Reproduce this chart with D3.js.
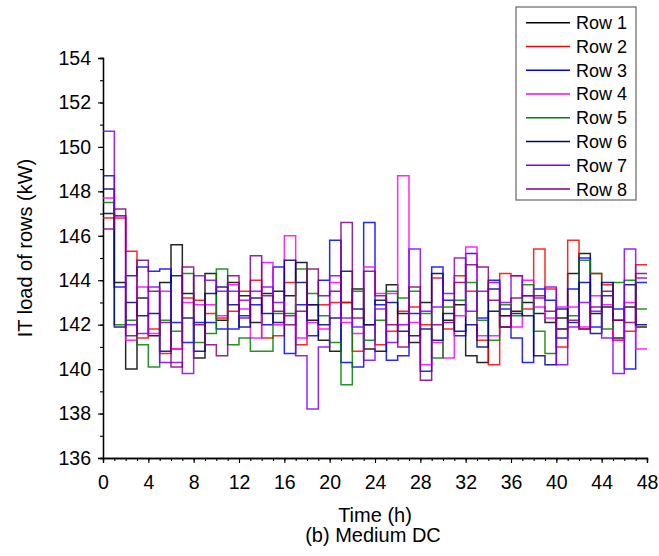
<!DOCTYPE html>
<html>
<head>
<meta charset="utf-8">
<script src="https://cdn.jsdelivr.net/npm/d3@7"></script>
<style>
  body { margin: 0; background: #fff; }
  text { font-family: "Liberation Sans", Arial, sans-serif; fill: #000; }
</style>
</head>
<body>
<div id="chart"></div>
<script>
// hourly IT load per row (kW), hour 0..47
var hours = d3.range(0, 48);
var row1 = [147.0,143.9,140.0,143.2,141.5,143.9,145.6,143.4,140.5,144.3,142.2,143.9,143.3,142.1,143.4,143.5,143.3,144.8,142.2,141.3,140.8,143.0,143.6,140.9,140.8,143.8,142.5,141.2,143.0,144.3,142.2,142.9,140.6,140.3,142.6,141.9,142.6,143.0,142.5,142.1,142.3,144.3,145.2,142.5,142.8,141.4,142.8,141.9];
var row2 = [146.8,146.8,145.3,141.4,141.8,140.7,140.9,143.2,143.1,142.5,142.3,142.6,143.5,144.0,141.4,141.5,143.9,141.1,142.9,142.9,143.0,143.0,140.8,142.0,141.1,141.7,142.6,142.8,142.0,144.1,141.8,144.2,143.5,141.3,140.2,144.3,144.2,142.7,145.4,143.6,141.0,145.8,141.8,144.3,143.8,141.3,141.7,144.7];
var row3 = [148.7,143.7,144.2,144.6,144.4,144.5,142.1,141.2,142.1,142.1,141.8,141.8,142.4,142.9,142.0,144.6,140.7,142.9,141.5,144.0,145.8,140.3,140.1,146.6,142.9,140.4,140.6,142.5,139.9,144.6,143.1,141.5,145.2,142.3,144.0,142.7,141.4,140.3,143.6,143.1,141.4,143.6,145.0,141.9,143.3,142.7,140.0,143.9];
var row4 = [147.7,146.9,141.3,143.7,141.6,143.5,140.9,143.0,142.9,142.9,142.4,143.8,142.7,141.4,144.8,142.0,146.0,141.4,142.1,141.8,143.9,142.1,141.6,144.6,143.4,143.4,148.7,142.1,140.2,141.2,140.5,142.4,145.5,141.5,141.5,142.4,141.9,144.0,142.8,142.3,142.8,142.8,141.9,143.3,142.9,141.3,143.0,140.9];
var row5 = [147.5,142.0,142.2,141.1,140.1,142.2,141.7,144.3,141.2,141.6,144.5,141.1,141.4,140.8,140.8,142.5,142.5,144.5,143.4,142.4,141.2,139.3,143.5,141.3,142.2,143.5,143.2,143.5,142.5,140.5,142.8,143.1,143.9,142.2,141.3,142.9,142.4,143.8,141.7,140.7,141.8,142.4,144.9,144.3,141.8,143.9,144.0,142.7];
var row6 = [148.1,141.9,143.0,142.4,142.5,140.8,144.2,142.3,140.8,143.4,143.7,142.9,141.9,143.2,142.5,142.1,144.9,143.9,142.9,142.0,142.3,144.4,142.7,142.0,143.1,143.0,141.7,141.5,141.8,141.3,142.5,141.7,142.0,141.0,143.6,142.4,142.5,142.4,140.6,140.2,142.7,142.1,143.9,141.6,143.9,142.2,143.8,142.0];
var row7 = [150.7,146.9,142.0,141.6,143.7,140.3,140.3,139.8,144.2,144.0,143.5,143.5,143.1,143.5,143.7,143.0,142.4,140.6,138.2,141.0,144.2,142.3,141.9,140.4,142.7,141.2,142.0,145.4,142.6,142.8,143.4,145.0,142.6,143.5,143.9,143.0,144.2,143.3,143.2,143.7,140.2,141.9,143.0,142.6,141.4,139.8,145.4,144.1];
var row8 = [146.3,147.2,141.5,144.9,143.5,142.1,140.1,144.6,142.0,141.1,140.6,144.2,142.3,145.1,143.3,142.6,142.0,142.6,144.5,143.3,143.5,146.6,142.3,144.4,143.3,142.0,141.0,143.7,139.5,142.0,142.1,143.9,144.7,144.6,143.1,141.9,143.2,143.3,143.3,142.6,141.8,142.2,141.8,142.8,143.5,142.2,142.1,144.3];

var rowNames = ["Row 1","Row 2","Row 3","Row 4","Row 5","Row 6","Row 7","Row 8"];
var rowColors = ["#000000","#ff0000","#0000ff","#ff00ff","#008000","#000080","#8000ff","#800080"];
var rows = [row1,row2,row3,row4,row5,row6,row7,row8];
var xTicks = d3.range(0, 49, 4);
var yTicks = d3.range(136, 155, 2);

var W = 659, H = 556;
var margin = {left: 103, right: 12, top: 58, bottom: 98};

var svg = d3.select("#chart").append("svg")
    .attr("width", W).attr("height", H);

var x = d3.scaleLinear().domain([0, 48]).range([margin.left, W - margin.right]);
var y = d3.scaleLinear().domain([136, 154]).range([H - margin.bottom, margin.top]);

// minor ticks
var xMinor = d3.axisBottom(x).tickValues(d3.range(0, 49, 1)).tickSize(3).tickFormat("");
var yMinor = d3.axisLeft(y).tickValues(d3.range(136, 155, 1)).tickSize(3).tickFormat("");
svg.append("g").attr("transform", "translate(0," + y(136) + ")").call(xMinor);
svg.append("g").attr("transform", "translate(" + x(0) + ",0)").call(yMinor);

var xAxis = d3.axisBottom(x).tickValues(xTicks).tickSize(5).tickPadding(12).tickFormat(d3.format("d"));
var yAxis = d3.axisLeft(y).tickValues(yTicks).tickSize(5).tickPadding(7).tickFormat(d3.format("d"));
var gx = svg.append("g").attr("transform", "translate(0," + y(136) + ")").call(xAxis);
var gy = svg.append("g").attr("transform", "translate(" + x(0) + ",0)").call(yAxis);

svg.selectAll(".domain").attr("stroke", "#000").attr("stroke-width", 1.3);
svg.selectAll(".tick line").attr("stroke", "#000").attr("stroke-width", 1.1);
gx.selectAll("text").style("font-size", "19.5px").attr("fill", "#000");
gy.selectAll("text").style("font-size", "19.5px").attr("fill", "#000");

// step lines
var line = d3.line()
    .x(function(d) { return x(d[0]); })
    .y(function(d) { return y(d[1]); })
    .curve(d3.curveStepAfter);

rows.forEach(function(vals, i) {
    var pts = hours.map(function(h) { return [h, vals[h]]; });
    pts.push([48, vals[47]]);
    svg.append("path")
        .datum(pts)
        .attr("d", line)
        .attr("fill", "none")
        .attr("stroke", rowColors[i])
        .attr("stroke-width", 1.5)
        .attr("stroke-opacity", 0.85);
});

// axis titles
svg.append("text")
    .attr("transform", "translate(32,248) rotate(-90)")
    .attr("text-anchor", "middle")
    .style("font-size", "20px")
    .text("IT load of rows (kW)");
svg.append("text")
    .attr("x", 375).attr("y", 522)
    .attr("text-anchor", "middle")
    .style("font-size", "20px")
    .text("Time (h)");
svg.append("text")
    .attr("x", 373).attr("y", 542)
    .attr("text-anchor", "middle")
    .style("font-size", "20px")
    .text("(b) Medium DC");

// legend
var lg = svg.append("g").attr("transform", "translate(516,7)");
lg.append("rect")
    .attr("width", 120).attr("height", 193)
    .attr("fill", "#fff").attr("stroke", "#666").attr("stroke-width", 1.2);
rowNames.forEach(function(name, i) {
    var yy = 15.7 + i * 23.76;
    lg.append("line")
        .attr("x1", 10).attr("x2", 54).attr("y1", yy).attr("y2", yy)
        .attr("stroke", rowColors[i]).attr("stroke-width", 1.5);
    lg.append("text")
        .attr("x", 60).attr("y", yy + 6.5)
        .style("font-size", "18px")
        .text(name);
});
</script>
</body>
</html>
